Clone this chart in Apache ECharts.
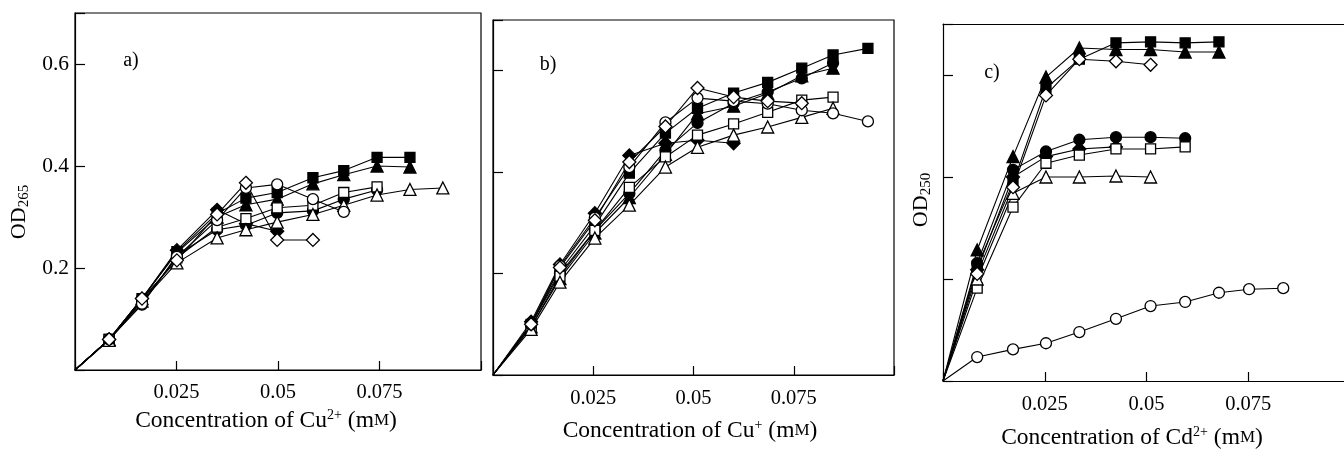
<!DOCTYPE html>
<html><head><meta charset="utf-8">
<script src="https://cdn.jsdelivr.net/npm/echarts@6/dist/echarts.min.js"></script>
<style>html,body{margin:0;padding:0;background:#fff}#c{width:1344px;height:450px}</style>
</head><body><div id="c"></div>
<script>
// tick labels
const xTickLabels = ['0.025', '0.05', '0.075'];
const yTickLabels = ['0.2', '0.4', '0.6'];

// x positions (mM) of the measurement columns, per panel
const xColsA = [0.0084, 0.0165, 0.0251, 0.0350, 0.0421, 0.0498, 0.0586, 0.0662, 0.0744, 0.0825, 0.0906];
const xColsB = [0.0095, 0.0167, 0.0254, 0.0340, 0.0430, 0.0510, 0.0600, 0.0685, 0.0770, 0.0848, 0.0935];
const xColsC = [0.0084, 0.0172, 0.0253, 0.0335, 0.0425, 0.0510, 0.0595, 0.0678, 0.0752, 0.0836];

// panel a) Cu2+ , OD265
const aOpenCircle     = [0.060, 0.130, 0.222, 0.294, 0.357, 0.364, 0.335, 0.310];
const aFilledCircle   = [0.060, 0.128, 0.225, 0.275, 0.284, 0.308, 0.312, 0.335, 0.353];
const aOpenSquare     = [0.060, 0.135, 0.220, 0.280, 0.297, 0.318, 0.323, 0.348, 0.359];
const aFilledSquare   = [0.060, 0.140, 0.232, 0.307, 0.337, 0.348, 0.377, 0.391, 0.417, 0.417];
const aOpenTriangle   = [0.058, 0.135, 0.210, 0.259, 0.275, 0.290, 0.305, 0.323, 0.343, 0.354, 0.357];
const aFilledTriangle = [0.060, 0.140, 0.230, 0.300, 0.324, 0.335, 0.365, 0.383, 0.400, 0.398];
const aOpenDiamond    = [0.060, 0.140, 0.215, 0.305, 0.367, 0.255, 0.255];
const aFilledDiamond  = [0.060, 0.140, 0.235, 0.314, 0.287, 0.272];

// panel b) Cu+
const bOpenCircle     = [0.100, 0.215, 0.310, 0.410, 0.498, 0.546, 0.540, 0.535, 0.522, 0.516, 0.500];
const bFilledCircle   = [0.100, 0.200, 0.285, 0.358, 0.443, 0.497, 0.536, 0.558, 0.585, 0.615];
const bOpenSquare     = [0.095, 0.195, 0.285, 0.370, 0.430, 0.473, 0.495, 0.518, 0.542, 0.548];
const bFilledSquare   = [0.100, 0.205, 0.295, 0.398, 0.477, 0.526, 0.556, 0.577, 0.605, 0.631, 0.644];
const bOpenTriangle   = [0.090, 0.183, 0.270, 0.335, 0.410, 0.449, 0.473, 0.489, 0.508, 0.526];
const bFilledTriangle = [0.095, 0.190, 0.280, 0.350, 0.435, 0.515, 0.530, 0.555, 0.590, 0.605];
const bOpenDiamond    = [0.100, 0.212, 0.305, 0.420, 0.490, 0.566, 0.548, 0.540, 0.536];
const bFilledDiamond  = [0.105, 0.218, 0.319, 0.433, 0.457, 0.463, 0.457];

// panel c) Cd2+ , OD250
const cOpenCircle     = [0.047, 0.062, 0.074, 0.096, 0.122, 0.147, 0.155, 0.173, 0.180, 0.182];
const cFilledCircle   = [0.231, 0.414, 0.450, 0.473, 0.478, 0.478, 0.476];
const cOpenSquare     = [0.182, 0.341, 0.427, 0.443, 0.455, 0.455, 0.459];
const cFilledSquare   = [0.225, 0.388, 0.574, 0.631, 0.663, 0.665, 0.663, 0.665];
const cOpenTriangle   = [0.200, 0.368, 0.400, 0.400, 0.402, 0.400];
const cFilledTriangle = [0.257, 0.440, 0.596, 0.653, 0.650, 0.650, 0.645, 0.645];
const cOpenDiamond    = [0.210, 0.380, 0.560, 0.631, 0.627, 0.620];
const cFilledDiamond  = [0.218, 0.400, 0.440, 0.455, 0.459];

const FONT = "'Liberation Serif','DejaVu Serif',serif";
const chart = echarts.init(document.getElementById('c'), null, {renderer: 'canvas'});

const grids = [
  {left: 75, top: 13, width: 406, height: 357, show: true},
  {left: 493, top: 20, width: 401, height: 355, show: true},
  {left: 943, top: 24, width: 407, height: 357, show: false}
];
const xCols = [xColsA, xColsB, xColsC];

function fmtX(v) {
  const s = (+v.toFixed(4));
  const map = {0.025: xTickLabels[0], 0.05: xTickLabels[1], 0.075: xTickLabels[2]};
  return map[s] || '';
}
function fmtY(v) {
  const s = (+v.toFixed(4));
  const map = {0.2: yTickLabels[0], 0.4: yTickLabels[1], 0.6: yTickLabels[2]};
  return map[s] || '';
}

const xAxes = grids.map((g, i) => ({
  gridIndex: i, type: 'value', min: 0, max: 0.1, interval: 0.025,
  axisLine: {show: true, onZero: false, lineStyle: {color: '#000', width: 1.2}},
  axisTick: {show: true, inside: true, length: 9, lineStyle: {color: '#000', width: 1.2}},
  splitLine: {show: false},
  axisLabel: {formatter: fmtX, color: '#000', fontFamily: FONT, fontSize: 20.5, margin: [12, 13, 13][i]}
}));
// top frame line of panel c (its right edge is cut off in the figure)
xAxes.push({
  gridIndex: 2, type: 'value', position: 'top', min: 0, max: 0.1,
  axisLine: {show: true, onZero: false, lineStyle: {color: '#000', width: 1.2}},
  axisTick: {show: false}, axisLabel: {show: false}, splitLine: {show: false}
});
const yAxes = grids.map((g, i) => ({
  gridIndex: i, type: 'value', min: 0, max: 0.7, interval: 0.2,
  axisLine: {show: true, onZero: false, lineStyle: {color: '#000', width: 1.2}},
  axisTick: {show: true, inside: true, length: 10, lineStyle: {color: '#000', width: 1.2}},
  splitLine: {show: false},
  axisLabel: {show: i === 0, formatter: fmtY, color: '#000', fontFamily: FONT, fontSize: 21.5, margin: 6}
}));

const symSize = {circle: 11, rect: 10, triangle: 12, diamond: 13};
function mk(panel, ys, symbol, filled) {
  const xs = xCols[panel];
  const data = [{value: [0, 0], symbol: 'none'}].concat(ys.map((y, k) => [xs[k], y]));
  return {
    type: 'line', xAxisIndex: panel, yAxisIndex: panel, data,
    symbol, symbolSize: symSize[symbol], showSymbol: true,
    lineStyle: {color: '#000', width: 1.1},
    itemStyle: {color: filled ? '#000' : '#fff', borderColor: '#000', borderWidth: 1.3},
    emphasis: {disabled: true}, silent: true, z: filled ? 2 : 3
  };
}
const series = [
  mk(0, aFilledSquare, 'rect', true), mk(0, aFilledTriangle, 'triangle', true),
  mk(0, aFilledCircle, 'circle', true), mk(0, aFilledDiamond, 'diamond', true),
  mk(0, aOpenSquare, 'rect', false), mk(0, aOpenTriangle, 'triangle', false),
  mk(0, aOpenCircle, 'circle', false), mk(0, aOpenDiamond, 'diamond', false),
  mk(1, bFilledSquare, 'rect', true), mk(1, bFilledTriangle, 'triangle', true),
  mk(1, bFilledCircle, 'circle', true), mk(1, bFilledDiamond, 'diamond', true),
  mk(1, bOpenSquare, 'rect', false), mk(1, bOpenTriangle, 'triangle', false),
  mk(1, bOpenCircle, 'circle', false), mk(1, bOpenDiamond, 'diamond', false),
  mk(2, cFilledSquare, 'rect', true), mk(2, cFilledTriangle, 'triangle', true),
  mk(2, cFilledCircle, 'circle', true), mk(2, cFilledDiamond, 'diamond', true),
  mk(2, cOpenSquare, 'rect', false), mk(2, cOpenTriangle, 'triangle', false),
  mk(2, cOpenCircle, 'circle', false), mk(2, cOpenDiamond, 'diamond', false)
];

const richBase = {
  sup: {fontFamily: FONT, fontSize: 14, verticalAlign: 'top', lineHeight: 13, fill: '#000'},
  sub: {fontFamily: FONT, fontSize: 15, verticalAlign: 'bottom', lineHeight: 14, fill: '#000'},
  sc: {fontFamily: FONT, fontSize: 17, fill: '#000'}
};
function txt(x, y, text, size, rot) {
  return {
    type: 'text', x, y, rotation: rot || 0, silent: true,
    style: {
      text, fill: '#000', fontFamily: FONT, fontSize: size, lineHeight: 26,
      align: 'center', verticalAlign: 'middle', textAlign: 'center', textVerticalAlign: 'middle',
      rich: richBase
    }
  };
}

chart.setOption({
  animation: false,
  backgroundColor: '#fff',
  grid: grids.map(g => Object.assign({borderColor: '#000', borderWidth: 1.2, backgroundColor: 'transparent', outerBoundsMode: 'none', containLabel: false}, g)),
  xAxis: xAxes,
  yAxis: yAxes,
  series,
  graphic: [
    txt(131, 61, 'a)', 20),
    txt(548, 65, 'b)', 20),
    txt(992, 73, 'c)', 20),
    txt(19, 212, 'OD{sub|265}', 22, Math.PI / 2),
    txt(921, 200, 'OD{sub|250}', 22, Math.PI / 2),
    txt(266, 421, 'Concentration of Cu{sup|2+} (m{sc|M})', 23.5),
    txt(690, 431, 'Concentration of Cu{sup|+} (m{sc|M})', 23.5),
    txt(1132, 438, 'Concentration of Cd{sup|2+} (m{sc|M})', 23.5)
  ]
});
</script>
</body></html>
